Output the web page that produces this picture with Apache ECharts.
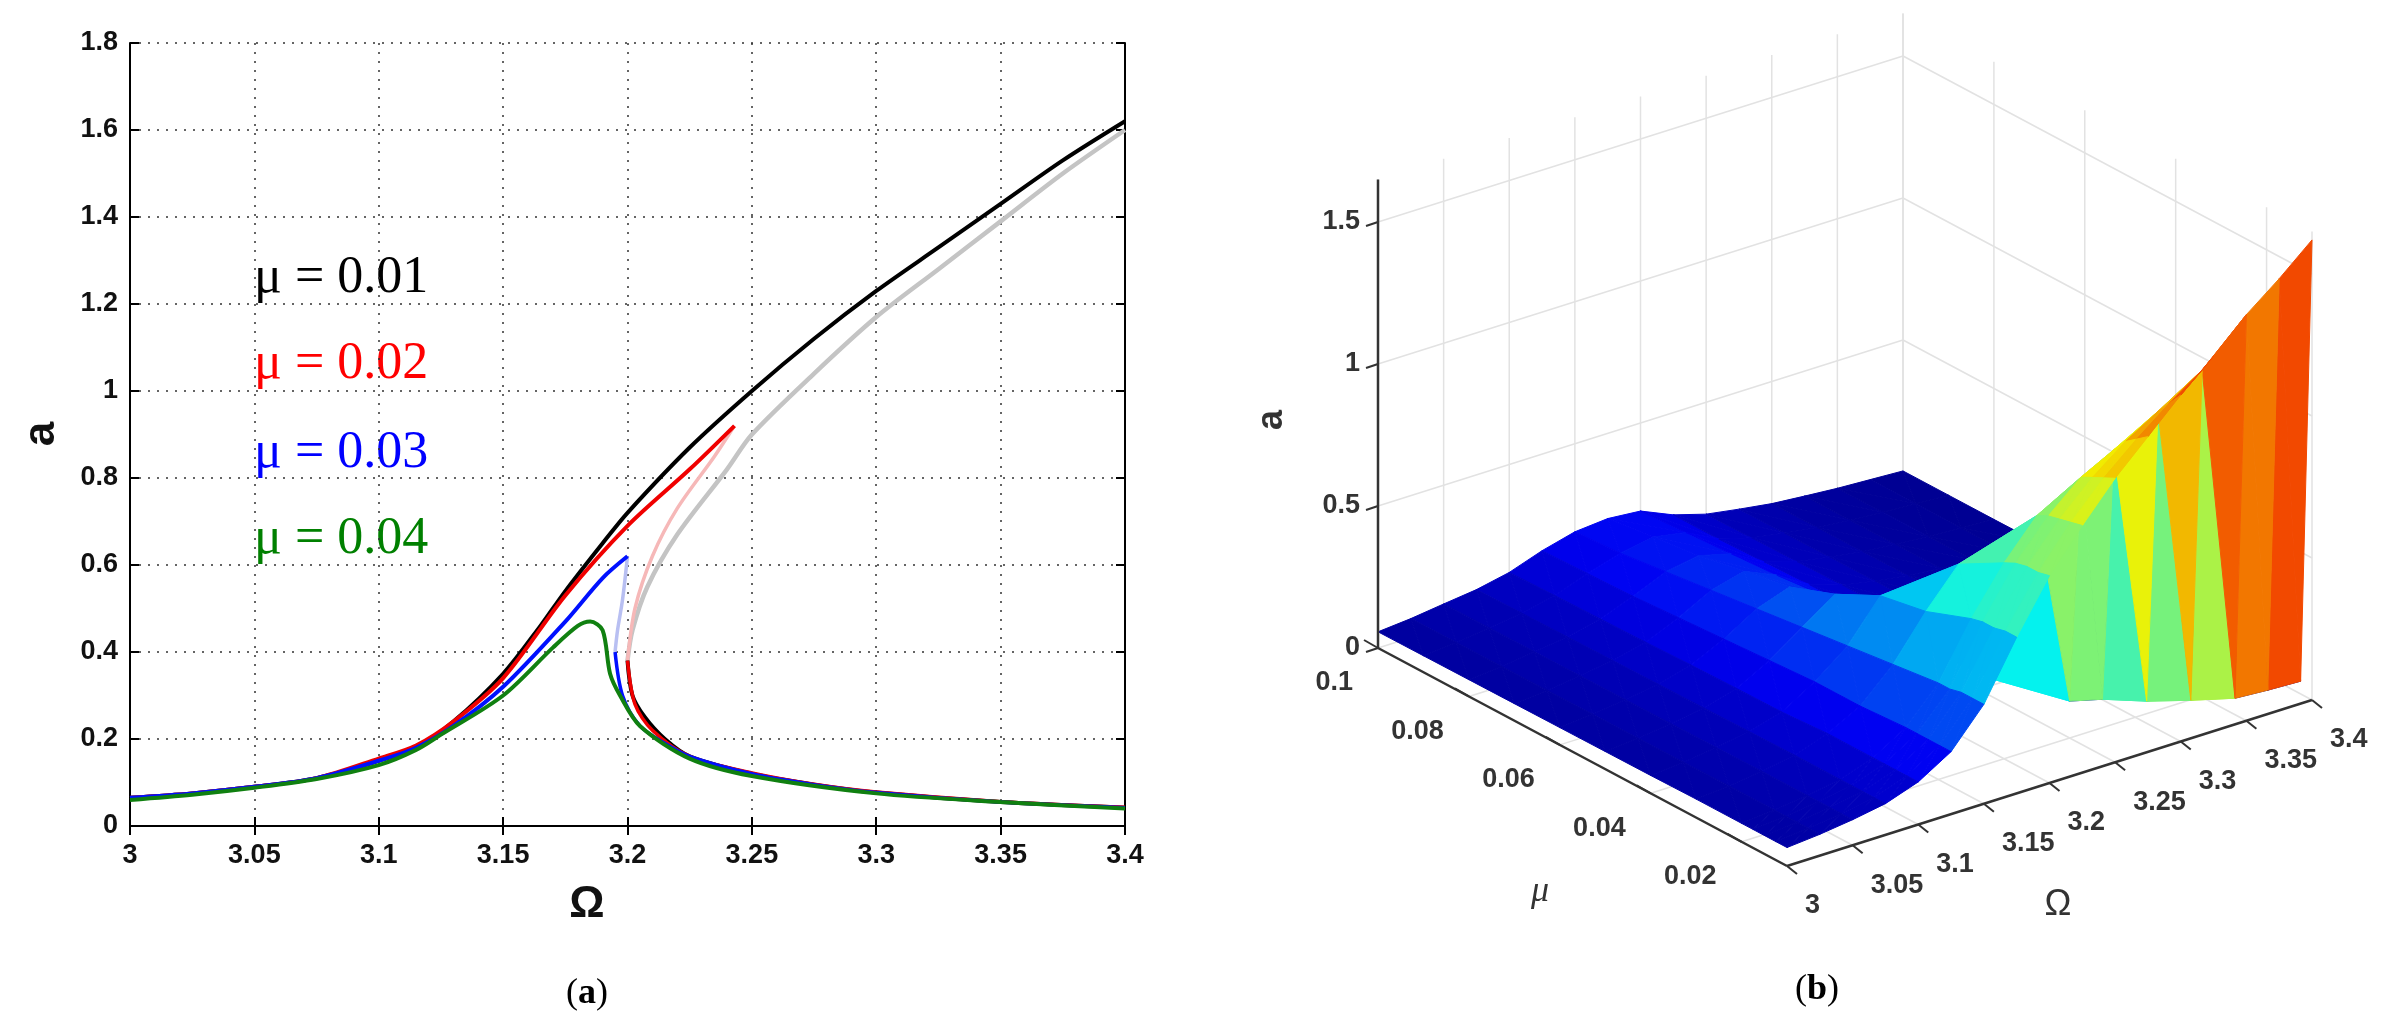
<!DOCTYPE html>
<html><head><meta charset="utf-8">
<script src="https://cdn.jsdelivr.net/npm/echarts@6/dist/echarts.min.js"></script>
<style>html,body{margin:0;padding:0;background:#fff}#c{width:2396px;height:1034px}</style>
</head><body><div id="c"></div>
<script>
// ---------- panel (a) data ----------
const blackUpper = [[3.0,0.065],[3.025,0.075],[3.05,0.09],[3.075,0.11],[3.1,0.15],[3.115,0.18],[3.13,0.24],[3.15,0.35],[3.165,0.46],[3.175,0.54],[3.19,0.65],[3.2,0.72],[3.225,0.87],[3.25,1.0],[3.275,1.12],[3.3,1.23],[3.325,1.33],[3.35,1.43],[3.375,1.53],[3.4,1.62]];
const blackUnstable = [[3.2,0.38],[3.202,0.45],[3.208,0.55],[3.22,0.67],[3.24,0.82],[3.25,0.9],[3.275,1.04],[3.3,1.17],[3.325,1.28],[3.35,1.39],[3.375,1.5],[3.4,1.6]];
const blackLower = [[3.2,0.38],[3.202,0.3],[3.207,0.25],[3.215,0.2],[3.225,0.16],[3.25,0.12],[3.275,0.095],[3.3,0.077],[3.35,0.055],[3.4,0.042]];
const redUpper = [[3.0,0.065],[3.025,0.075],[3.05,0.09],[3.075,0.11],[3.1,0.155],[3.115,0.185],[3.13,0.24],[3.15,0.34],[3.175,0.53],[3.2,0.69],[3.225,0.82],[3.243,0.92]];
const redUnstable = [[3.243,0.92],[3.235,0.85],[3.22,0.73],[3.21,0.62],[3.203,0.5],[3.2,0.38]];
const redLower = [[3.2,0.38],[3.203,0.28],[3.21,0.22],[3.225,0.16],[3.25,0.122],[3.275,0.096],[3.3,0.078],[3.35,0.056],[3.4,0.043]];
const blueUpper = [[3.0,0.065],[3.025,0.075],[3.05,0.09],[3.075,0.11],[3.1,0.15],[3.115,0.18],[3.13,0.23],[3.15,0.32],[3.175,0.47],[3.19,0.57],[3.2,0.62]];
const blueUnstable = [[3.2,0.62],[3.198,0.52],[3.196,0.45],[3.195,0.4]];
const blueLower = [[3.195,0.4],[3.198,0.3],[3.205,0.23],[3.215,0.19],[3.225,0.16],[3.25,0.12],[3.275,0.095],[3.3,0.077],[3.35,0.055],[3.4,0.042]];
const green = [[3.0,0.06],[3.025,0.072],[3.05,0.088],[3.075,0.108],[3.1,0.14],[3.115,0.175],[3.125,0.21],[3.15,0.3],[3.17,0.41],[3.18,0.46],[3.185,0.47],[3.19,0.45],[3.193,0.35],[3.197,0.3],[3.205,0.23],[3.225,0.155],[3.25,0.115],[3.3,0.075],[3.35,0.055],[3.4,0.04]];
const legendLabels = ['μ = 0.01','μ = 0.02','μ = 0.03','μ = 0.04'];

// ---------- panel (b) data ----------
const omegaGrid = [3.0,3.025,3.05,3.075,3.1,3.125,3.15,3.175,3.2,3.225,3.25,3.275,3.3,3.325,3.35,3.375,3.4];
const muGrid = [0.01,0.0125,0.015,0.0175,0.02,0.03,0.04,0.05,0.06,0.07,0.08,0.09,0.1];
const aGrid = [
 [0.065,0.075,0.09,0.11,0.15,0.22,0.35,0.55,0.73,0.87,1.0,1.11,1.22,1.32,1.43,1.52,1.62],
 [0.065,0.075,0.09,0.11,0.15,0.22,0.35,0.55,0.72,0.86,0.98,1.08,1.17,1.25,0.058,0.05,0.045],
 [0.065,0.075,0.09,0.11,0.15,0.22,0.35,0.54,0.72,0.85,0.96,1.05,1.12,0.066,0.056,0.05,0.045],
 [0.065,0.075,0.09,0.11,0.15,0.22,0.34,0.54,0.71,0.84,0.94,1.0,0.078,0.066,0.056,0.05,0.045],
 [0.065,0.075,0.09,0.11,0.15,0.22,0.34,0.53,0.69,0.82,0.13,0.1,0.078,0.065,0.056,0.05,0.045],
 [0.065,0.075,0.09,0.11,0.15,0.21,0.32,0.47,0.6,0.16,0.12,0.095,0.077,0.065,0.055,0.05,0.043],
 [0.063,0.073,0.088,0.108,0.14,0.21,0.3,0.44,0.24,0.155,0.115,0.093,0.075,0.064,0.055,0.048,0.04],
 [0.062,0.072,0.087,0.106,0.138,0.2,0.28,0.36,0.25,0.155,0.115,0.092,0.075,0.063,0.054,0.047,0.04],
 [0.061,0.071,0.086,0.104,0.135,0.19,0.26,0.3,0.24,0.15,0.113,0.09,0.074,0.062,0.053,0.046,0.04],
 [0.06,0.07,0.085,0.102,0.13,0.18,0.24,0.27,0.22,0.15,0.112,0.09,0.073,0.062,0.053,0.046,0.04],
 [0.059,0.069,0.084,0.1,0.127,0.17,0.22,0.24,0.21,0.145,0.11,0.089,0.072,0.061,0.052,0.045,0.039],
 [0.058,0.068,0.083,0.098,0.124,0.165,0.2,0.22,0.2,0.14,0.108,0.088,0.071,0.06,0.052,0.045,0.039],
 [0.057,0.067,0.082,0.096,0.12,0.16,0.19,0.2,0.19,0.14,0.106,0.087,0.07,0.06,0.051,0.045,0.039]
];
const omegaTicks = [3,3.05,3.1,3.15,3.2,3.25,3.3,3.35,3.4];
const muTicks = [0.02,0.04,0.06,0.08,0.1];
const aTicks = [0,0.5,1,1.5];

// ---------- projection for 3D panel ----------
const O3 = {x:1378, y:648}, VO = [525,-166], VM = [409,218], VA = -284, ZMAX = 1.65;
function proj(om, mu, a){
  const tO = (om-3)/0.4, tM = (0.1-mu)/0.09;
  return [O3.x + VO[0]*tO + VM[0]*tM, O3.y + VO[1]*tO + VM[1]*tM + VA*a];
}
function jet(v, s){
  v = Math.max(0, Math.min(1, v));
  const r = Math.max(0, Math.min(1, 1.5 - Math.abs(4*v-3)));
  const g = Math.max(0, Math.min(1, 1.5 - Math.abs(4*v-2)));
  const b = Math.max(0, Math.min(1, 1.5 - Math.abs(4*v-1)));
  const f = x=>Math.round(Math.max(0,Math.min(1,x*s))*255);
  return 'rgb('+f(r)+','+f(g)+','+f(b)+')';
}
const tris = [];
for (let j=0;j<muGrid.length-1;j++) for (let i=0;i<omegaGrid.length-1;i++){
  const A=[i,j],B=[i+1,j],C=[i+1,j+1],D=[i,j+1];
  const h=p=>aGrid[p[1]][p[0]];
  const pair = Math.abs(h(A)-h(C)) <= Math.abs(h(B)-h(D)) ? [[A,B,C],[A,C,D]] : [[A,B,D],[B,C,D]];
  pair.forEach(t=>{
    const om=(omegaGrid[t[0][0]]+omegaGrid[t[1][0]]+omegaGrid[t[2][0]])/3;
    const mu=(muGrid[t[0][1]]+muGrid[t[1][1]]+muGrid[t[2][1]])/3;
    tris.push([t[0][0],t[0][1],t[1][0],t[1][1],t[2][0],t[2][1],166*(om-3)/0.4+218*(mu-0.01)/0.09,i,j]);
  });
}
tris.sort((p,q)=>q[6]-p[6]);

const wallSegs = [];
omegaTicks.forEach(o=>{ wallSegs.push([o,0.1,0,o,0.1,ZMAX]); wallSegs.push([o,0.1,0,o,0.01,0]); });
muTicks.concat([0.01]).forEach(m=>{ wallSegs.push([3.4,m,0,3.4,m,ZMAX]); wallSegs.push([3,m,0,3.4,m,0]); });
aTicks.slice(1).forEach(a=>{ wallSegs.push([3,0.1,a,3.4,0.1,a]); wallSegs.push([3.4,0.1,a,3.4,0.01,a]); });
const axisSegs = [[3,0.1,0,3,0.1,ZMAX],[3,0.1,0,3,0.01,0],[3,0.01,0,3.4,0.01,0]];

const segRender = (color,w)=>function(params, api){
  const p1 = proj(api.value(0),api.value(1),api.value(2)), p2 = proj(api.value(3),api.value(4),api.value(5));
  return {type:'line', shape:{x1:p1[0],y1:p1[1],x2:p2[0],y2:p2[1]}, style:{stroke:color, lineWidth:w}};
};
const labels3d = [];
aTicks.forEach(a=>labels3d.push([0,a]));
muTicks.forEach(m=>labels3d.push([1,m]));
omegaTicks.forEach(o=>labels3d.push([2,o]));
function fmt(v){ return String(+v.toFixed(3)); }

const chart = echarts.init(document.getElementById('c'));
const lineS = (data,color,w,z)=>({type:'line', data, showSymbol:false, smooth:0.3, lineStyle:{color, width:w}, z:z||2, silent:true, xAxisIndex:0, yAxisIndex:0});
const axisFont = {fontFamily:'Liberation Sans, Arial', fontWeight:'bold', fontSize:27, color:'#111'};
const tk = {inside:true,length:9,lineStyle:{color:'#000',width:2}};

chart.setOption({
  animation:false,
  grid:{left:130, right:1271, top:43, bottom:208, show:false},
  xAxis:[
    {type:'value', min:3, max:3.4, interval:0.05, axisLine:{lineStyle:{color:'#000',width:2}}, axisTick:tk,
     axisLabel:Object.assign({margin:16, formatter:fmt}, axisFont), splitLine:{lineStyle:{type:[2,7],color:'#333',width:1.5}}},
    {type:'value', position:'top', min:3, max:3.4, interval:0.05, axisLine:{show:true,lineStyle:{color:'#000',width:2}}, axisTick:tk, axisLabel:{show:false}, splitLine:{show:false}}
  ],
  yAxis:[
    {type:'value', min:0, max:1.8, interval:0.2, axisLine:{show:true,lineStyle:{color:'#000',width:2}}, axisTick:tk,
     axisLabel:Object.assign({margin:12, formatter:fmt}, axisFont), splitLine:{lineStyle:{type:[2,7],color:'#333',width:1.5}}},
    {type:'value', position:'right', min:0, max:1.8, interval:0.2, axisLine:{show:true,lineStyle:{color:'#000',width:2}}, axisTick:tk, axisLabel:{show:false}, splitLine:{show:false}}
  ],
  graphic:[
    {type:'text', x:42, y:434, rotation:Math.PI/2, style:{text:'a', font:'bold 44px Liberation Sans', fill:'#111', align:'center', verticalAlign:'middle'}},
    {type:'text', x:587, y:905, style:{text:'Ω', font:'bold 44px Liberation Sans', fill:'#111', align:'center', verticalAlign:'middle'}},
    {type:'text', x:587, y:994, style:{rich:{p:{font:'36px Liberation Serif',fill:'#000'},b:{font:'bold 36px Liberation Serif',fill:'#000'}}, text:'{p|(}{b|a}{p|)}', align:'center', verticalAlign:'middle'}},
    {type:'text', x:254, y:278, style:{text:legendLabels[0], font:'52px Liberation Serif', fill:'#000', verticalAlign:'middle'}},
    {type:'text', x:254, y:364, style:{text:legendLabels[1], font:'52px Liberation Serif', fill:'#ff0000', verticalAlign:'middle'}},
    {type:'text', x:254, y:453, style:{text:legendLabels[2], font:'52px Liberation Serif', fill:'#0000ff', verticalAlign:'middle'}},
    {type:'text', x:254, y:539, style:{text:legendLabels[3], font:'52px Liberation Serif', fill:'#008000', verticalAlign:'middle'}},
    {type:'text', x:1272, y:420, rotation:Math.PI/2, style:{text:'a', font:'bold 36px Liberation Sans', fill:'#333', align:'center', verticalAlign:'middle'}},
    {type:'text', x:1540, y:892, style:{text:'μ', font:'italic 36px Liberation Serif', fill:'#333', align:'center', verticalAlign:'middle'}},
    {type:'text', x:2058, y:905, style:{text:'Ω', font:'36px Liberation Sans', fill:'#333', align:'center', verticalAlign:'middle'}},
    {type:'text', x:1817, y:990, style:{rich:{p:{font:'36px Liberation Serif',fill:'#000'},b:{font:'bold 36px Liberation Serif',fill:'#000'}}, text:'{p|(}{b|b}{p|)}', align:'center', verticalAlign:'middle'}}
  ],
  series:[
    lineS(blackUnstable,'#c4c4c4',4.5,1),
    lineS(redUnstable,'#f6b8b8',3.5,1),
    lineS(blueUnstable,'#b8bff2',3.5,1),
    lineS(blackUpper,'#000',4,2),
    lineS(blackLower,'#000',4,2),
    lineS(redUpper,'#f00000',4,3),
    lineS(redLower,'#f00000',3.5,3),
    lineS(blueUpper,'#0010ff',4,4),
    lineS(blueLower,'#0010ff',3.5,4),
    lineS(green,'#108010',4,5),
    {type:'custom', coordinateSystem:'none', silent:true, z:10, data:wallSegs, renderItem:segRender('#e2e2e2',1.5)},
    {type:'custom', coordinateSystem:'none', silent:true, z:11, data:tris, renderItem:function(params, api){
        const v=[0,1,2].map(k=>[api.value(2*k),api.value(2*k+1)]);
        const hs=v.map(([a,b])=>aGrid[b][a]);
        const pts=v.map(([a,b],k)=>proj(omegaGrid[a],muGrid[b],hs[k]));
        const i=api.value(7), j=api.value(8);
        const q=[aGrid[j][i],aGrid[j][i+1],aGrid[j+1][i],aGrid[j+1][i+1]];
        const qm=(q[0]+q[1]+q[2]+q[3])/4, qx=Math.max(...q);
        const c=jet((0.4*qm+0.6*qx)/1.62, 0.95);
        return {type:'polygon', shape:{points:pts}, style:{fill:c, stroke:c, lineWidth:1}};
    }},
    {type:'custom', coordinateSystem:'none', silent:true, z:12, data:axisSegs, renderItem:segRender('#333',2.5)},
    {type:'custom', coordinateSystem:'none', silent:true, z:12, data:labels3d, renderItem:function(params, api){
        const k=api.value(0), v=api.value(1);
        let p, tick, txt, st;
        if(k===0){ p=proj(3,0.1,v); tick=[p[0]-12,p[1]+4]; txt=[p[0]-18,p[1]]; st={align:'right',verticalAlign:'middle'}; }
        else if(k===1){ p=proj(3,v,0); tick=[p[0]-14,p[1]-8]; txt=[p[0]-25,p[1]+35]; st={align:'right',verticalAlign:'middle'}; }
        else { p=proj(v,0.01,0); tick=[p[0]+10,p[1]+8]; txt=[p[0]+18,p[1]+40]; st={align:'left',verticalAlign:'middle'}; }
        return {type:'group', children:[
          {type:'line', shape:{x1:p[0],y1:p[1],x2:tick[0],y2:tick[1]}, style:{stroke:'#333',lineWidth:2}},
          {type:'text', x:txt[0], y:txt[1], style:Object.assign({text:fmt(v), font:'bold 27px Liberation Sans', fill:'#333'}, st)}
        ]};
    }}
  ]
});
</script></body></html>
